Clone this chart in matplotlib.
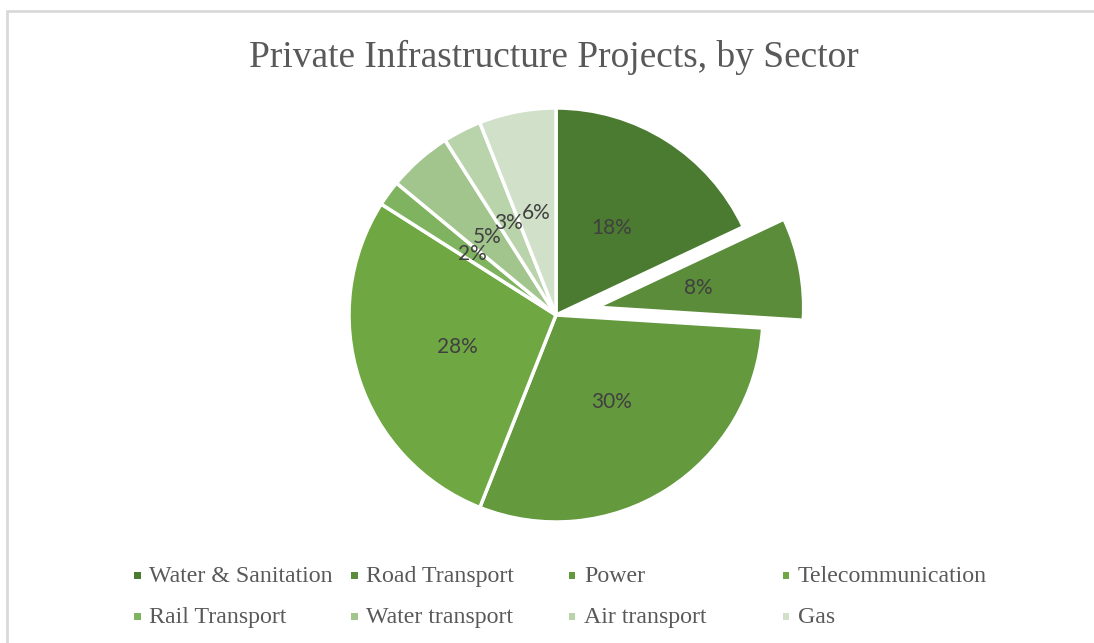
import matplotlib
matplotlib.use("Agg")
import matplotlib.pyplot as plt
from matplotlib.patches import Rectangle

# Sector shares of private infrastructure projects (percent)
sectors = ["Water & Sanitation", "Road Transport", "Power", "Telecommunication",
           "Rail Transport", "Water transport", "Air transport", "Gas"]
shares = [18, 8, 30, 28, 2, 5, 3, 6]
colors = ["#4b7a31", "#5a8c3a", "#64993e", "#6fa843",
          "#7fb360", "#a2c58e", "#b9d3aa", "#d1e0c8"]
explode = [0, 0.2, 0, 0, 0, 0, 0, 0]

W, H = 1094, 643
fig = plt.figure(figsize=(W / 100, H / 100), dpi=100)
fig.patch.set_facecolor("white")

# light chart-area frame (left and top edges visible)
fig.add_artist(Rectangle((7 / W, -0.05), 2.0, (H - 11) / H + 0.05,
                         transform=fig.transFigure, fill=False,
                         edgecolor="#d9d9d9", linewidth=2))

fig.text(554 / W, 1 - 57 / H, "Private Infrastructure Projects, by Sector",
         ha="center", va="center", fontsize=26.9, family="Liberation Serif",
         color="#595959")

# pie axes: centre at (556, 315) px, radius 207 px
cx, cy, R = 556, 315, 207
ax = fig.add_axes([(cx - R) / W, (H - cy - R) / H, 2 * R / W, 2 * R / H])
wedges, texts, autotexts = ax.pie(
    shares, colors=colors, explode=explode, startangle=90, counterclock=False,
    autopct="%d%%", pctdistance=0.5,
    wedgeprops=dict(edgecolor="white", linewidth=2.5),
    textprops=dict(fontsize=15, family="Lato", color="#404040"))
for w in wedges:
    w.set_clip_on(False)
ax.set_xlim(-1, 1)
ax.set_ylim(-1, 1)
ax.set_aspect("equal")
ax.axis("off")

# legend in two rows of four
col_x = [137, 354, 572, 786]
row_y = [575, 616]
for i, (name, c) in enumerate(zip(sectors, colors)):
    x = col_x[i % 4]
    y = row_y[i // 4]
    s = 7
    fig.add_artist(Rectangle(((x - s / 2) / W, 1 - (y + s / 2) / H), s / W, s / H,
                             transform=fig.transFigure, facecolor=c,
                             edgecolor="none"))
    fig.text((x + 12) / W, 1 - (y + 1.5) / H, name, ha="left", va="center",
             fontsize=17.2, family="Liberation Serif", color="#595959")

fig.savefig("out.png", dpi=100)
